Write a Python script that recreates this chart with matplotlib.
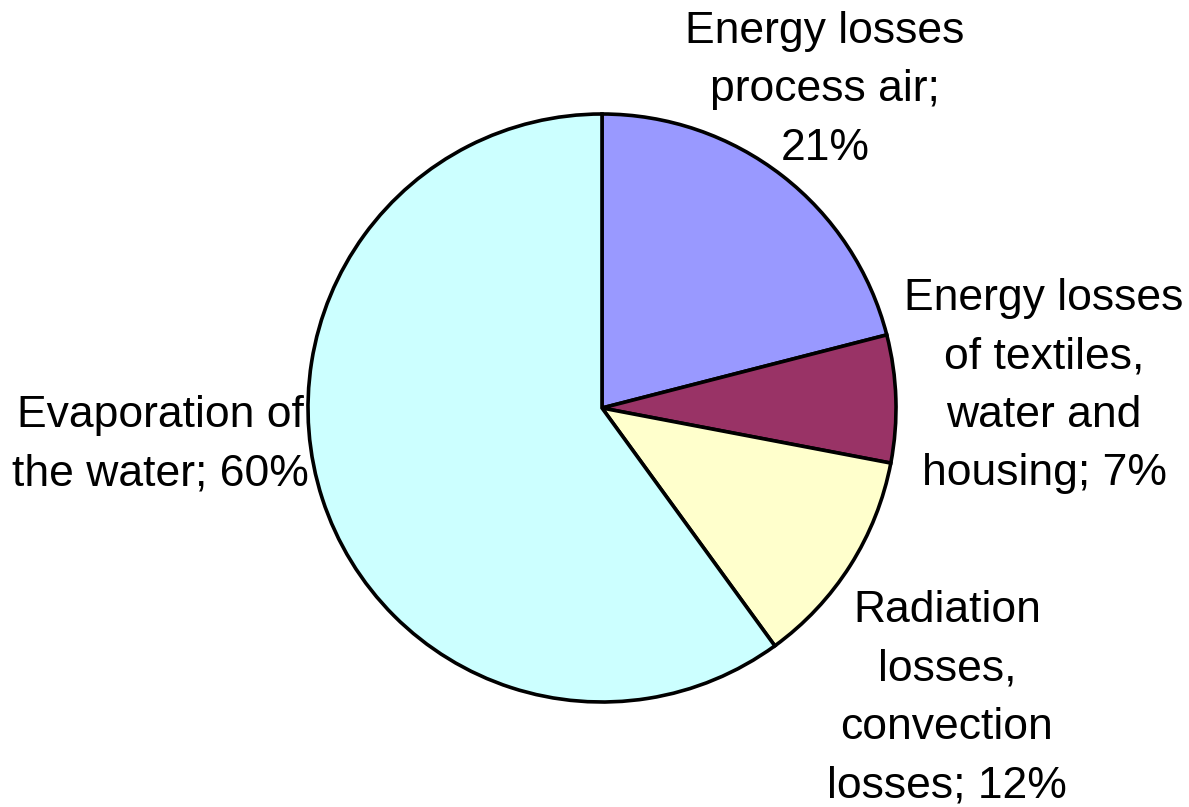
import matplotlib.pyplot as plt

labels = ["Energy losses\nprocess air;\n21%",
          "Energy losses\nof textiles,\nwater and\nhousing; 7%",
          "Radiation\nlosses,\nconvection\nlosses; 12%",
          "Evaporation of\nthe water; 60%"]
shares = [21, 7, 12, 60]
colors = ["#9999FF", "#993366", "#FFFFCC", "#CCFFFF"]

# label centres in pixel space (y measured from top)
label_pos = [(825, 90), (1044, 386), (947, 698), (160, 445)]

W, H = 1189, 807
fig = plt.figure(figsize=(W / 100, H / 100), dpi=100)
ax = fig.add_axes([0, 0, 1, 1])

ax.pie(shares, colors=colors, startangle=90, counterclock=False,
       center=(602, H - 408), radius=294, frame=True,
       wedgeprops=dict(edgecolor='black', linewidth=2.6))
ax.set_xlim(0, W)
ax.set_ylim(0, H)
ax.set_aspect('equal')
ax.axis('off')

for txt, (x, y) in zip(labels, label_pos):
    ax.text(x, H - y, txt, ha='center', va='center', multialignment='center',
            fontsize=32, family='Liberation Sans', linespacing=1.55)

fig.savefig("out.png", dpi=100)
